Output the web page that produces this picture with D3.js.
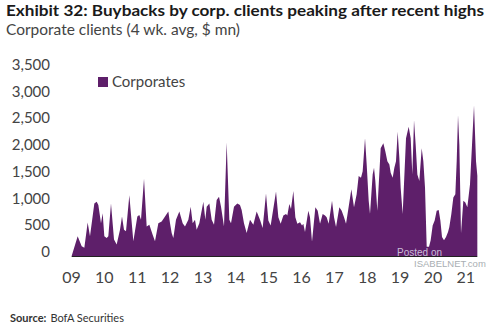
<!DOCTYPE html>
<html>
<head>
<meta charset="utf-8">
<script src="https://cdn.jsdelivr.net/npm/d3@7"></script>
<style>
  html, body { margin: 0; padding: 0; background: #fff; }
  svg text { font-family: Lato, "Open Sans", sans-serif; }
</style>
</head>
<body>
<div id="chart"></div>
<script>
(function () {
    'use strict'

    // weekly corporate buybacks, 4wk avg ($ mn), time as decimal years
    var years = [
        2009.02, 2009.203, 2009.325, 2009.406, 2009.507, 2009.578, 2009.71, 2009.781, 2009.832, 2009.913,
        2009.964, 2010.014, 2010.085, 2010.136, 2010.217, 2010.309, 2010.39, 2010.491, 2010.552, 2010.613,
        2010.674, 2010.775, 2010.897, 2011.019, 2011.079, 2011.13, 2011.222, 2011.303, 2011.384, 2011.485,
        2011.556, 2011.658, 2011.759, 2011.861, 2011.962, 2012.013, 2012.063, 2012.114, 2012.195, 2012.297,
        2012.398, 2012.469, 2012.571, 2012.642, 2012.703, 2012.773, 2012.824, 2012.905, 2013.027, 2013.088,
        2013.129, 2013.21, 2013.281, 2013.352, 2013.433, 2013.504, 2013.565, 2013.656, 2013.737, 2013.818,
        2013.869, 2013.96, 2014.061, 2014.142, 2014.193, 2014.264, 2014.345, 2014.447, 2014.548, 2014.65,
        2014.751, 2014.832, 2014.934, 2015.005, 2015.076, 2015.239, 2015.31, 2015.381, 2015.462, 2015.543,
        2015.583, 2015.644, 2015.695, 2015.766, 2015.827, 2015.888, 2015.969, 2016.03, 2016.07, 2016.121,
        2016.222, 2016.273, 2016.334, 2016.436, 2016.507, 2016.578, 2016.659, 2016.73, 2016.78, 2016.841,
        2016.943, 2017.004, 2017.065, 2017.166, 2017.237, 2017.308, 2017.369, 2017.409, 2017.531, 2017.612,
        2017.693, 2017.754, 2017.825, 2017.876, 2017.947, 2017.998, 2018.059, 2018.099, 2018.18, 2018.221,
        2018.261, 2018.322, 2018.424, 2018.505, 2018.566, 2018.627, 2018.688, 2018.728, 2018.789, 2018.84,
        2018.89, 2018.941, 2018.992, 2019.032, 2019.093, 2019.195, 2019.276, 2019.337, 2019.387, 2019.438,
        2019.489, 2019.54, 2019.6, 2019.672, 2019.722, 2019.773, 2019.824, 2019.895, 2019.945, 2020.006,
        2020.067, 2020.128, 2020.189, 2020.24, 2020.29, 2020.351, 2020.412, 2020.473, 2020.513, 2020.574,
        2020.635, 2020.696, 2020.737, 2020.777, 2020.818, 2020.868, 2020.939, 2021.0, 2021.061, 2021.142,
        2021.203, 2021.264, 2021.325, 2021.365
    ]
    var corporates = [
        0, 368, 184, 154, 626, 368, 982, 1013, 952, 614,
        798, 368, 338, 368, 982, 307, 215, 491, 737, 491,
        460, 1136, 276, 737, 767, 675, 1443, 553, 583, 399,
        276, 614, 645, 737, 829, 614, 430, 338, 675, 829,
        614, 553, 675, 921, 614, 675, 491, 614, 1013, 675,
        921, 982, 675, 583, 1044, 1105, 921, 553, 2118, 675,
        614, 921, 982, 952, 860, 614, 430, 675, 583, 829,
        675, 522, 1167, 663, 571, 1203, 725, 602, 755, 786,
        755, 970, 878, 1216, 725, 602, 632, 571, 602, 448,
        847, 725, 264, 909, 847, 602, 786, 755, 725, 602,
        1032, 725, 540, 909, 847, 725, 602, 755, 1246, 909,
        1154, 1492, 1461, 1584, 2198, 1707, 1032, 786, 1523, 1646,
        1400, 847, 2014, 2106, 1953, 1768, 1707, 1553, 1461, 1646,
        1768, 2321, 1830, 1277, 786, 2198, 2413, 2198, 1523, 2536,
        2075, 1523, 1400, 2014, 1768, 1277, 172, 172, 295, 571,
        663, 847, 860, 663, 356, 295, 356, 448, 540, 786,
        1093, 1154, 1768, 2628, 2075, 418, 1032, 1001, 909, 1339,
        2075, 2812, 1768, 1500
    ]
    var yTicks = [0, 500, 1000, 1500, 2000, 2500, 3000, 3500]
    var yearTicks = [2009, 2010, 2011, 2012, 2013, 2014, 2015, 2016, 2017, 2018, 2019, 2020, 2021]

    var width = 500,
        height = 326

    var svg = d3.select('#chart')
        .append('svg')
        .attr('width', width)
        .attr('height', height)

    var x = d3.scaleLinear().domain([2009, 2022]).range([71, 498.2])
    var y = d3.scaleLinear().domain([0, 3500]).range([256, 68.6])

    var data = years.map(function (t, i) {
        return { t: t, v: corporates[i] }
    })

    // titles
    svg.append('text')
        .attr('x', 6)
        .attr('y', 16)
        .attr('textLength', 478)
        .attr('lengthAdjust', 'spacingAndGlyphs')
        .style('font-size', '16px')
        .style('font-weight', 'bold')
        .style('fill', '#1a1a1a')
        .text('Exhibit 32: Buybacks by corp. clients peaking after recent highs')

    svg.append('text')
        .attr('x', 6)
        .attr('y', 35)
        .attr('textLength', 234)
        .attr('lengthAdjust', 'spacingAndGlyphs')
        .style('font-size', '15px')
        .style('fill', '#444')
        .text('Corporate clients (4 wk. avg, $ mn)')

    // area
    var area = d3.area()
        .x(function (d) { return x(d.t) })
        .y0(y(0))
        .y1(function (d) { return y(d.v) })

    svg.append('path')
        .datum(data)
        .attr('d', area)
        .style('fill', '#5e1f6a')

    svg.append('line')
        .attr('x1', x(years[0]))
        .attr('x2', x(years[years.length - 1]))
        .attr('y1', y(0) + 0.5)
        .attr('y2', y(0) + 0.5)
        .style('stroke', '#222')
        .style('stroke-width', 1)

    // axes
    var yAxis = svg.append('g')
        .attr('transform', 'translate(50,0)')
        .call(d3.axisLeft(y).tickValues(yTicks).tickFormat(d3.format(',')).tickSize(0).tickPadding(0))
    yAxis.select('.domain').remove()
    yAxis.selectAll('text')
        .attr('dy', '0.05em')
        .style('font-family', 'Lato, sans-serif')
        .style('font-size', '15px')
        .style('fill', '#444')

    var xAxis = svg.append('g')
        .attr('transform', 'translate(0,' + 269 + ')')
        .call(d3.axisBottom(x).tickValues(yearTicks)
            .tickFormat(function (d) { return String(d % 100).padStart(2, '0') })
            .tickSize(0).tickPadding(3))
    xAxis.select('.domain').remove()
    xAxis.selectAll('text')
        .style('font-family', 'Lato, sans-serif')
        .style('font-size', '16px')
        .style('fill', '#444')

    // legend
    var legend = svg.append('g').attr('transform', 'translate(98,77)')
    legend.append('rect')
        .attr('width', 10)
        .attr('height', 10)
        .style('fill', '#5e1f6a')
    legend.append('text')
        .attr('x', 14)
        .attr('y', 10)
        .style('font-size', '15px')
        .style('fill', '#444')
        .text('Corporates')

    // watermark
    svg.append('text')
        .attr('x', 397)
        .attr('y', 256)
        .style('font-family', 'Liberation Sans, Arial, sans-serif')
        .style('font-size', '10px')
        .style('fill', '#c9bcd6')
        .text('Posted on')
    svg.append('text')
        .attr('x', 414)
        .attr('y', 267)
        .style('font-family', 'Liberation Sans, Arial, sans-serif')
        .style('font-size', '9.5px')
        .style('fill', '#9a9fa6')
        .style('opacity', 0.85)
        .text('ISABELNET.com')

    // source
    var source = svg.append('text')
        .attr('x', 10)
        .attr('y', 322)
        .style('font-size', '11px')
        .style('fill', '#333')
    source.append('tspan').style('font-weight', 'bold').text('Source:')
    source.append('tspan').attr('dx', 4).text('BofA Securities')
})()
</script>
</body>
</html>
